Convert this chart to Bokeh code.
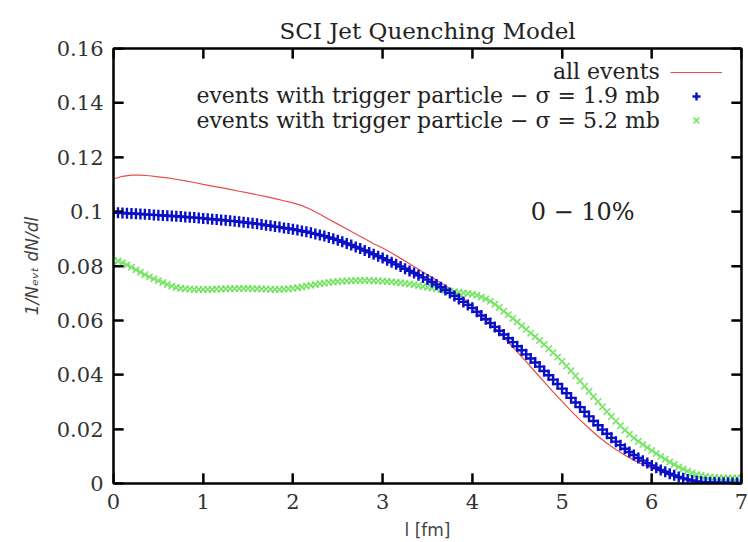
from bokeh.plotting import figure
from bokeh.models import (Range1d, LinearAxis, FixedTicker, CustomJSTickFormatter,
                          Label, Legend, LegendItem, ColumnDataSource)
from bokeh.embed import file_html
from bokeh.resources import INLINE

# ---------------- data ----------------
title_text = "SCI Jet Quenching Model"
series_names = ["all events",
                "events with trigger particle \u2212 \u03c3 = 1.9 mb",
                "events with trigger particle \u2212 \u03c3 = 5.2 mb"]
centrality = "0 \u2212 10%"
x_ticks = [0, 1, 2, 3, 4, 5, 6, 7]
y_ticks = [0, 0.02, 0.04, 0.06, 0.08, 0.1, 0.12, 0.14, 0.16]

# all events (line), l step 0.1 fm
l_all = [round(0.1 * i, 2) for i in range(71)]
all_events = [
    0.1120, 0.1130, 0.1134, 0.1134, 0.1132, 0.1128, 0.1124, 0.1119, 0.1113, 0.1107,
    0.1100, 0.1094, 0.1088, 0.1082, 0.1075, 0.1069, 0.1062, 0.1055, 0.1048, 0.1040,
    0.1032, 0.1022, 0.1008, 0.0990, 0.0972, 0.0954, 0.0936, 0.0918, 0.0900, 0.0882,
    0.0866, 0.0848, 0.0828, 0.0808, 0.0788, 0.0768, 0.0748, 0.0727, 0.0705, 0.0681,
    0.0650, 0.0620, 0.0590, 0.0556, 0.0520, 0.0484, 0.0448, 0.0411, 0.0374, 0.0337,
    0.0302, 0.0267, 0.0234, 0.0203, 0.0174, 0.0148, 0.0125, 0.0104, 0.0086, 0.0070,
    0.0056, 0.0043, 0.0031, 0.0021, 0.0012, 0.0006, 0.0003, 0.0001, 0.0001, 0.0000,
    0.0000,
]

# trigger events, l step 0.05 fm
l_trig = [round(0.05 * i, 2) for i in range(141)]
sigma_1_9 = [
    0.0998, 0.0996, 0.0995, 0.0994, 0.0993, 0.0992, 0.0991, 0.0990, 0.0989, 0.0988,
    0.0987, 0.0986, 0.0985, 0.0984, 0.0983, 0.0982, 0.0980, 0.0979, 0.0978, 0.0977,
    0.0975, 0.0974, 0.0972, 0.0971, 0.0969, 0.0968, 0.0966, 0.0965, 0.0963, 0.0961,
    0.0959, 0.0957, 0.0955, 0.0953, 0.0950, 0.0948, 0.0945, 0.0943, 0.0940, 0.0938,
    0.0935, 0.0932, 0.0929, 0.0926, 0.0922, 0.0918, 0.0914, 0.0910, 0.0905, 0.0900,
    0.0895, 0.0889, 0.0883, 0.0877, 0.0870, 0.0864, 0.0857, 0.0850, 0.0843, 0.0836,
    0.0829, 0.0821, 0.0814, 0.0806, 0.0798, 0.0790, 0.0782, 0.0774, 0.0766, 0.0758,
    0.0750, 0.0741, 0.0732, 0.0722, 0.0712, 0.0701, 0.0690, 0.0679, 0.0668, 0.0657,
    0.0646, 0.0632, 0.0618, 0.0604, 0.0590, 0.0576, 0.0562, 0.0548, 0.0534, 0.0520,
    0.0505, 0.0490, 0.0475, 0.0460, 0.0445, 0.0430, 0.0414, 0.0398, 0.0382, 0.0366,
    0.0349, 0.0332, 0.0315, 0.0298, 0.0281, 0.0264, 0.0247, 0.0230, 0.0214, 0.0198,
    0.0183, 0.0168, 0.0154, 0.0141, 0.0128, 0.0116, 0.0105, 0.0094, 0.0084, 0.0075,
    0.0066, 0.0058, 0.0050, 0.0043, 0.0036, 0.0030, 0.0024, 0.0019, 0.0015, 0.0011,
    0.0008, 0.0006, 0.0005, 0.0004, 0.0004, 0.0003, 0.0003, 0.0003, 0.0002, 0.0002,
    0.0002,
]
sigma_5_2 = [
    0.0820, 0.0818, 0.0812, 0.0804, 0.0795, 0.0786, 0.0777, 0.0768, 0.0760, 0.0753,
    0.0746, 0.0739, 0.0732, 0.0726, 0.0721, 0.0718, 0.0716, 0.0715, 0.0714, 0.0714,
    0.0714, 0.0714, 0.0714, 0.0715, 0.0715, 0.0716, 0.0716, 0.0717, 0.0717, 0.0717,
    0.0717, 0.0716, 0.0716, 0.0715, 0.0715, 0.0714, 0.0714, 0.0714, 0.0715, 0.0716,
    0.0718, 0.0720, 0.0723, 0.0726, 0.0729, 0.0732, 0.0735, 0.0737, 0.0739, 0.0741,
    0.0743, 0.0744, 0.0745, 0.0746, 0.0747, 0.0747, 0.0747, 0.0747, 0.0746, 0.0745,
    0.0744, 0.0743, 0.0742, 0.0740, 0.0738, 0.0736, 0.0734, 0.0731, 0.0728, 0.0725,
    0.0722, 0.0719, 0.0716, 0.0713, 0.0710, 0.0707, 0.0705, 0.0703, 0.0701, 0.0699,
    0.0696, 0.0692, 0.0686, 0.0679, 0.0670, 0.0659, 0.0647, 0.0634, 0.0621, 0.0607,
    0.0594, 0.0580, 0.0567, 0.0553, 0.0540, 0.0526, 0.0511, 0.0496, 0.0481, 0.0465,
    0.0449, 0.0432, 0.0415, 0.0396, 0.0377, 0.0358, 0.0339, 0.0320, 0.0301, 0.0282,
    0.0264, 0.0246, 0.0229, 0.0212, 0.0196, 0.0181, 0.0167, 0.0155, 0.0143, 0.0132,
    0.0121, 0.0110, 0.0099, 0.0089, 0.0079, 0.0070, 0.0061, 0.0053, 0.0045, 0.0039,
    0.0033, 0.0029, 0.0026, 0.0024, 0.0022, 0.0021, 0.0020, 0.0020, 0.0020, 0.0020,
    0.0020,
]

# ---------------- styling ----------------
SERIF = "DejaVu Serif"
RED = "#e0302a"
BLUE = "#0a10c8"
GREEN = "#62e04e"
X0, X1 = 0, 7
Y0, Y1 = 0, 0.16
W, H = 748, 542
ML, MR, MT, MB = 113, 7, 48, 59
TICK_PX = 10

p = figure(width=W, height=H, output_backend="svg", toolbar_location=None,
           x_range=Range1d(X0, X1), y_range=Range1d(Y0, Y1),
           min_border_left=ML, min_border_right=MR, min_border_top=MT,
           min_border_bottom=MB, title=title_text)
p.title.align = "center"
p.title.text_font = SERIF
p.title.text_font_size = "23px"
p.title.text_font_style = "normal"
p.title.text_color = "#222222"
p.title.offset = 0
p.title.standoff = 10

p.xgrid.visible = False
p.ygrid.visible = False
p.outline_line_color = "black"
p.outline_line_width = 2

# inward tick marks on all four sides, derived from tick lists and ranges
dx = (X1 - X0) * TICK_PX / (W - ML - MR)
dy = (Y1 - Y0) * TICK_PX / (H - MT - MB)
nx, ny = len(x_ticks), len(y_ticks)
p.segment(x0=x_ticks, y0=[Y0] * nx, x1=x_ticks, y1=[Y0 + dy] * nx,
          line_color="black", line_width=2)
p.segment(x0=x_ticks, y0=[Y1] * nx, x1=x_ticks, y1=[Y1 - dy] * nx,
          line_color="black", line_width=2)
p.segment(x0=[X0] * ny, y0=y_ticks, x1=[X0 + dx] * ny, y1=y_ticks,
          line_color="black", line_width=2)
p.segment(x0=[X1] * ny, y0=y_ticks, x1=[X1 - dx] * ny, y1=y_ticks,
          line_color="black", line_width=2)

src_all = ColumnDataSource(dict(l=l_all, y=all_events))
src_trig = ColumnDataSource(dict(l=l_trig, s19=sigma_1_9, s52=sigma_5_2))

r_all = p.line("l", "y", source=src_all, line_color=RED, line_width=1.2, line_alpha=0.85)
r_52 = p.scatter("l", "s52", source=src_trig, marker="x", size=9,
                 line_color=GREEN, line_width=1.6, line_alpha=0.85)
r_19 = p.scatter("l", "s19", source=src_trig, marker="cross", size=11,
                 line_color=BLUE, line_width=2.4)

fmt_y = CustomJSTickFormatter(code="return Number(tick.toFixed(2)).toString();")
fmt_x = CustomJSTickFormatter(code="return Number(tick.toFixed(0)).toString();")

for ax, ticks, fmt in ((p.xaxis[0], x_ticks, fmt_x), (p.yaxis[0], y_ticks, fmt_y)):
    ax.ticker = FixedTicker(ticks=ticks)
    ax.formatter = fmt
    ax.axis_line_width = 2
    ax.axis_line_color = "black"
    ax.major_tick_in = TICK_PX
    ax.major_tick_out = 0
    ax.major_tick_line_color = "black"
    ax.major_tick_line_width = 2
    ax.minor_tick_line_color = None
    ax.major_label_text_font = SERIF
    ax.major_label_text_font_size = "21px"
    ax.major_label_text_color = "#333333"
    ax.major_label_standoff = 10

xa = p.xaxis[0]
xa.axis_label = "l [fm]"
xa.axis_label_text_font = "DejaVu Sans"
xa.axis_label_text_font_size = "17px"
xa.axis_label_text_font_style = "normal"
xa.axis_label_standoff = 8

ya = p.yaxis[0]
ya.axis_label = "1/N\u2091\u1d65\u209c dN/dl"
ya.axis_label_text_font = "DejaVu Sans"
ya.axis_label_text_font_size = "17px"
ya.axis_label_text_font_style = "italic"
ya.axis_label_standoff = 12

# mirrored ticks on the top and right edges
for side, ticks in (("above", x_ticks), ("right", y_ticks)):
    mirror = LinearAxis(ticker=FixedTicker(ticks=ticks))
    mirror.axis_line_width = 2
    mirror.axis_line_color = "black"
    mirror.major_tick_in = TICK_PX
    mirror.major_tick_out = 0
    mirror.major_tick_line_color = "black"
    mirror.major_tick_line_width = 2
    mirror.minor_tick_line_color = None
    mirror.major_label_text_font_size = "0px"
    mirror.major_label_standoff = 0
    p.add_layout(mirror, side)

# legend: text right-aligned, sample glyph on the right (gnuplot style)
legend = Legend(items=[LegendItem(label=" ", renderers=[r_all]),
                       LegendItem(label=" ", renderers=[r_19]),
                       LegendItem(label=" ", renderers=[r_52])],
                location=(557, 353), glyph_width=52, glyph_height=20,
                label_height=20, label_width=0, label_standoff=0,
                label_text_font_size="1px", spacing=4, padding=0, margin=0,
                border_line_color=None, background_fill_alpha=0)
p.add_layout(legend)

leg_y = [0.1515, 0.1428, 0.1335]
for name, yy in zip(series_names, leg_y):
    p.add_layout(Label(x=6.09, y=yy, text=name, text_align="right",
                       text_baseline="middle", text_font=SERIF,
                       text_font_size="22px", text_color="#222222"))

p.add_layout(Label(x=4.65, y=0.1, text=centrality, text_align="left",
                   text_baseline="middle", text_font=SERIF,
                   text_font_size="24px", text_color="#222222"))

open("out.html", "w").write(file_html(p, INLINE))
